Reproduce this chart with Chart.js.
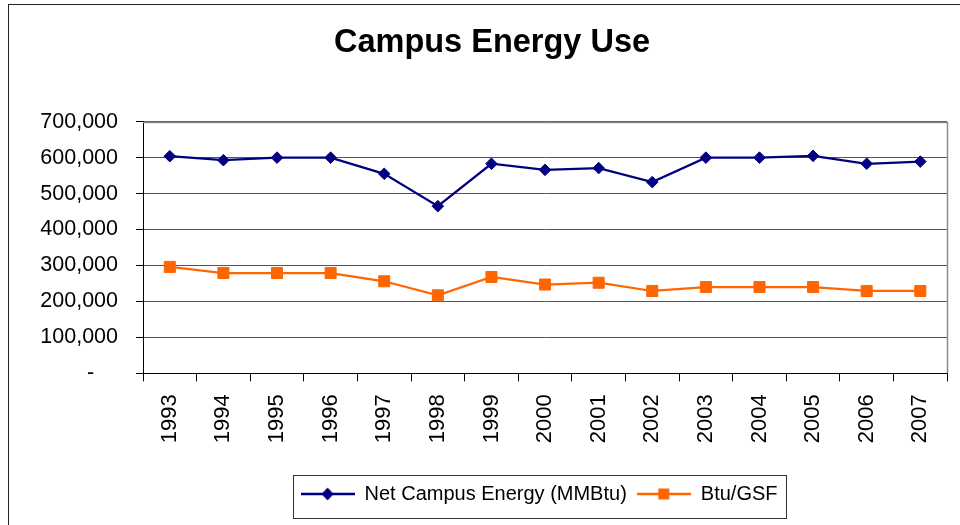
<!DOCTYPE html>
<html>
<head>
<meta charset="utf-8">
<script src="https://cdn.jsdelivr.net/npm/chart.js@4/dist/chart.umd.min.js"></script>
<style>
  html, body { margin: 0; padding: 0; background: #fff; overflow: hidden; }
  canvas { display: block; }
</style>
</head>
<body>
<canvas id="c" width="960" height="525"></canvas>
<script>
const years = ['1993','1994','1995','1996','1997','1998','1999','2000','2001','2002','2003','2004','2005','2006','2007'];
const netCampusEnergy = [604000, 593000, 600000, 600000, 555000, 465000, 583000, 566000, 571000, 532000, 600000, 600000, 605000, 583000, 589000];
const btuPerGsf = [296000, 279000, 279000, 279000, 256000, 217000, 268000, 247000, 252000, 229000, 240000, 240000, 240000, 229000, 229000];
const yTicks = [0, 100000, 200000, 300000, 400000, 500000, 600000, 700000];
const seriesNames = ['Net Campus Energy (MMBtu)', 'Btu/GSF'];

const NAVY = '#000080';
const ORANGE = '#FF6600';
const FONT = "'Liberation Sans', Arial, sans-serif";

function legendSymbol(color, shape) {
  const c = document.createElement('canvas');
  c.width = 54; c.height = 16;
  const g = c.getContext('2d');
  g.strokeStyle = color; g.lineWidth = 2.5;
  g.beginPath(); g.moveTo(0, 8); g.lineTo(54, 8); g.stroke();
  g.fillStyle = color;
  g.beginPath();
  if (shape === 'diamond') {
    g.moveTo(27, 1.5); g.lineTo(33, 8); g.lineTo(27, 14.5); g.lineTo(21, 8);
  } else {
    g.rect(21.5, 2.5, 11, 11);
  }
  g.closePath(); g.fill();
  return c;
}
const symbols = [legendSymbol(NAVY, 'diamond'), legendSymbol(ORANGE, 'square')];

const framePlugin = {
  id: 'frame',
  beforeDraw(chart) {
    const ctx = chart.ctx;
    ctx.save();
    ctx.fillStyle = '#fff';
    ctx.fillRect(0, 0, chart.width, chart.height);
    ctx.strokeStyle = '#222';
    ctx.lineWidth = 1;
    ctx.strokeRect(8.5, 4.5, chart.width + 20, chart.height + 20);
    ctx.restore();
  },
  afterLayout(chart) {
    const t = chart.titleBlock;
    t.left = 8; t.right = 976; t.width = 968;
    const l = chart.legend;
    const h = l.height;
    l.left = 0; l.right = 1078; l.width = 1078;
    l.top = 474; l.bottom = 474 + h;
  },
  beforeDatasetsDraw(chart) {
    const a = chart.chartArea, ctx = chart.ctx;
    ctx.save();
    ctx.strokeStyle = '#8c8c8c';
    ctx.lineWidth = 1.5;
    ctx.beginPath();
    ctx.moveTo(a.left, Math.round(a.top) + 0.5);
    ctx.lineTo(Math.round(a.right) + 0.5, Math.round(a.top) + 0.5);
    ctx.lineTo(Math.round(a.right) + 0.5, a.bottom);
    ctx.stroke();
    ctx.restore();
  },
  afterDraw(chart) {
    const hb = chart.legend.legendHitBoxes;
    if (!hb || !hb.length) return;
    const first = hb[0], last = hb[hb.length - 1];
    const x0 = Math.round(first.left - 8) + 0.5;
    const x1 = Math.round(last.left + last.width + 9) + 0.5;
    const y0 = Math.round(first.top - 9) + 0.5;
    const ctx = chart.ctx;
    ctx.save();
    ctx.strokeStyle = '#333';
    ctx.lineWidth = 1;
    ctx.strokeRect(x0, y0, x1 - x0, 43);
    ctx.restore();
  }
};

new Chart(document.getElementById('c'), {
  type: 'line',
  data: {
    labels: years,
    datasets: [
      {
        label: seriesNames[0],
        data: netCampusEnergy,
        borderColor: NAVY,
        backgroundColor: NAVY,
        borderWidth: 2.25,
        pointStyle: 'rectRot',
        pointRadius: 5.8,
        pointBorderWidth: 1,
        tension: 0
      },
      {
        label: seriesNames[1],
        data: btuPerGsf,
        borderColor: ORANGE,
        backgroundColor: ORANGE,
        borderWidth: 2.25,
        pointStyle: 'rect',
        pointRadius: 7.8,
        pointBorderWidth: 1,
        tension: 0
      }
    ]
  },
  options: {
    responsive: false,
    animation: false,
    events: [],
    layout: { padding: { left: 0, right: 7, top: 0, bottom: 0 } },
    plugins: {
      tooltip: { enabled: false },
      title: {
        display: true,
        text: 'Campus Energy Use',
        color: '#000',
        font: { family: FONT, size: 32.5, weight: 'bold', lineHeight: 1.2 },
        padding: { top: 24, bottom: 58.7 }
      },
      legend: {
        display: true,
        position: 'bottom',
        labels: {
          color: '#000',
          font: { family: FONT, size: 20 },
          usePointStyle: true,
          pointStyleWidth: 54,
          boxHeight: 20,
          padding: 10,
          generateLabels(chart) {
            const items = Chart.defaults.plugins.legend.labels.generateLabels(chart);
            items.forEach((it, i) => { it.pointStyle = symbols[i]; });
            return items;
          }
        }
      }
    },
    scales: {
      x: {
        type: 'category',
        offset: true,
        grid: {
          display: true,
          drawOnChartArea: false,
          drawTicks: true,
          tickLength: 8,
          tickColor: '#000',
          offset: true
        },
        border: { display: true, color: '#000', width: 1 },
        ticks: {
          autoSkip: false,
          minRotation: 90,
          maxRotation: 90,
          padding: 13,
          color: '#000',
          font: { family: FONT, size: 22 }
        },
        afterFit(s) { s.height = s.chart.height - s.chart.legend.height - 373.3; }
      },
      y: {
        min: 0,
        max: 700000,
        afterBuildTicks(s) { s.ticks = yTicks.map(v => ({ value: v })); },
        grid: {
          color: '#555555',
          lineWidth: 1,
          tickLength: 7,
          tickColor: '#000'
        },
        border: { display: true, color: '#000', width: 1 },
        ticks: {
          padding: 18,
          color: '#000',
          font: { family: FONT, size: 21.5 },
          callback(v) { return v === 0 ? '-    ' : v.toLocaleString('en-US'); }
        },
        afterFit(s) { s.width = 143; }
      }
    }
  },
  plugins: [framePlugin]
});
</script>
</body>
</html>
